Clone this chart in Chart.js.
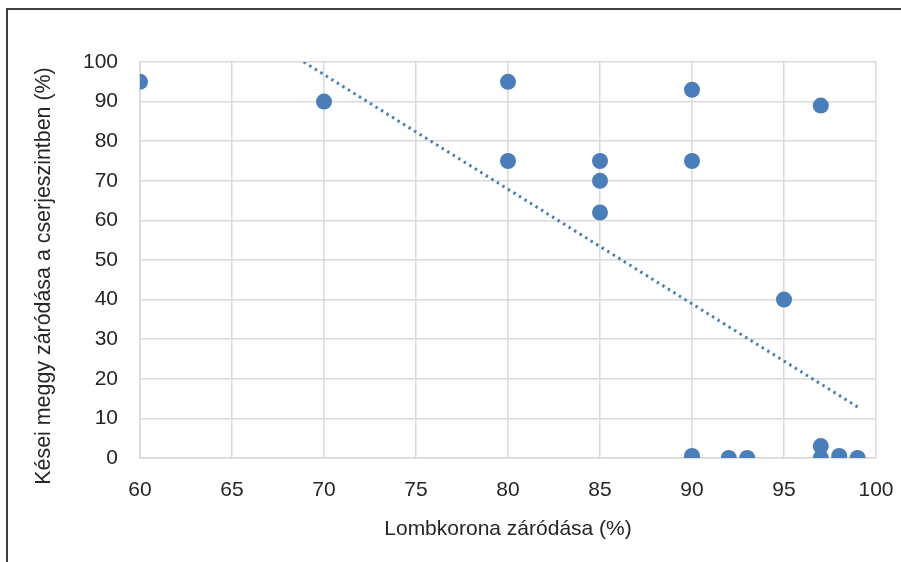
<!DOCTYPE html>
<html>
<head>
<meta charset="utf-8">
<script src="https://cdn.jsdelivr.net/npm/chart.js@4"></script>
<style>
  html, body { margin: 0; padding: 0; background: #fff; }
  #wrap { position: relative; width: 901px; height: 562px; }
  #frame { position: absolute; left: 6px; top: 8px; width: 920px; height: 600px;
           border-left: 2px solid #3f3f3f; border-top: 2px solid #3f3f3f; pointer-events: none; }
</style>
</head>
<body>
<div id="wrap">
  <canvas id="c" width="901" height="562"></canvas>
  <div id="frame"></div>
</div>
<script>
const xValues = [60, 70, 80, 80, 85, 85, 85, 90, 90, 90, 92, 93, 95, 97, 97, 97, 98, 99];
const yValues = [95, 90, 95, 75, 75, 70, 62, 93, 75, 0.5, 0, 0, 40, 89, 3, 0, 0.5, 0];
const trendX = [68.9, 99];
const trendY = [100, 12.9];
const xTitle = 'Lombkorona záródása (%)';
const yTitle = 'Kései meggy záródása a cserjeszintben (%)';

const fontFamily = '"Liberation Sans", Arial, sans-serif';
const textColor = '#262626';
const gridColor = '#d9d9d9';
const blue = '#4a7ebb';

const points = xValues.map((x, i) => ({ x: x, y: yValues[i] }));
const trend = trendX.map((x, i) => ({ x: x, y: trendY[i] }));

// Draws the vertical axis title (slightly below the axis centre, as in the original)
const yTitlePlugin = {
  id: 'yTitlePlugin',
  afterDraw(chart) {
    const ctx = chart.ctx;
    ctx.save();
    ctx.font = '21.4px ' + fontFamily;
    ctx.fillStyle = textColor;
    ctx.textAlign = 'center';
    ctx.textBaseline = 'middle';
    ctx.translate(44, 276);
    ctx.rotate(-Math.PI / 2);
    ctx.fillText(yTitle, 0, 0);
    ctx.restore();
  }
};

new Chart(document.getElementById('c'), {
  type: 'scatter',
  data: {
    datasets: [
      {
        data: trend,
        showLine: true,
        borderColor: blue,
        borderWidth: 3,
        borderDash: [2.5, 4],
        pointRadius: 0,
        fill: false
      },
      {
        data: points,
        backgroundColor: blue,
        borderWidth: 0,
        pointRadius: 8,
        pointHoverRadius: 8
      }
    ]
  },
  plugins: [yTitlePlugin],
  options: {
    responsive: false,
    animation: false,
    events: [],
    layout: { padding: { left: 0, top: 62, right: 25, bottom: 0 } },
    plugins: { legend: { display: false }, tooltip: { enabled: false } },
    scales: {
      x: {
        type: 'linear',
        min: 60, max: 100,
        afterFit: s => { s.height = 104; },
        ticks: { stepSize: 5, color: textColor, padding: 0, font: { family: fontFamily, size: 21 } },
        grid: { color: gridColor, lineWidth: 1.5, drawTicks: true, tickLength: 20, tickColor: 'rgba(0,0,0,0)' },
        border: { color: gridColor, width: 1.5 },
        title: { display: true, text: xTitle, color: textColor, padding: { top: 0, bottom: 20 },
                 font: { family: fontFamily, size: 21 } }
      },
      y: {
        type: 'linear',
        min: 0, max: 100,
        afterFit: s => { s.width = 140; },
        ticks: { stepSize: 10, color: textColor, padding: 22, font: { family: fontFamily, size: 21 } },
        grid: { color: gridColor, lineWidth: 1.5, drawTicks: false },
        border: { color: gridColor, width: 1.5 },
        title: { display: false }
      }
    }
  }
});
</script>
</body>
</html>
